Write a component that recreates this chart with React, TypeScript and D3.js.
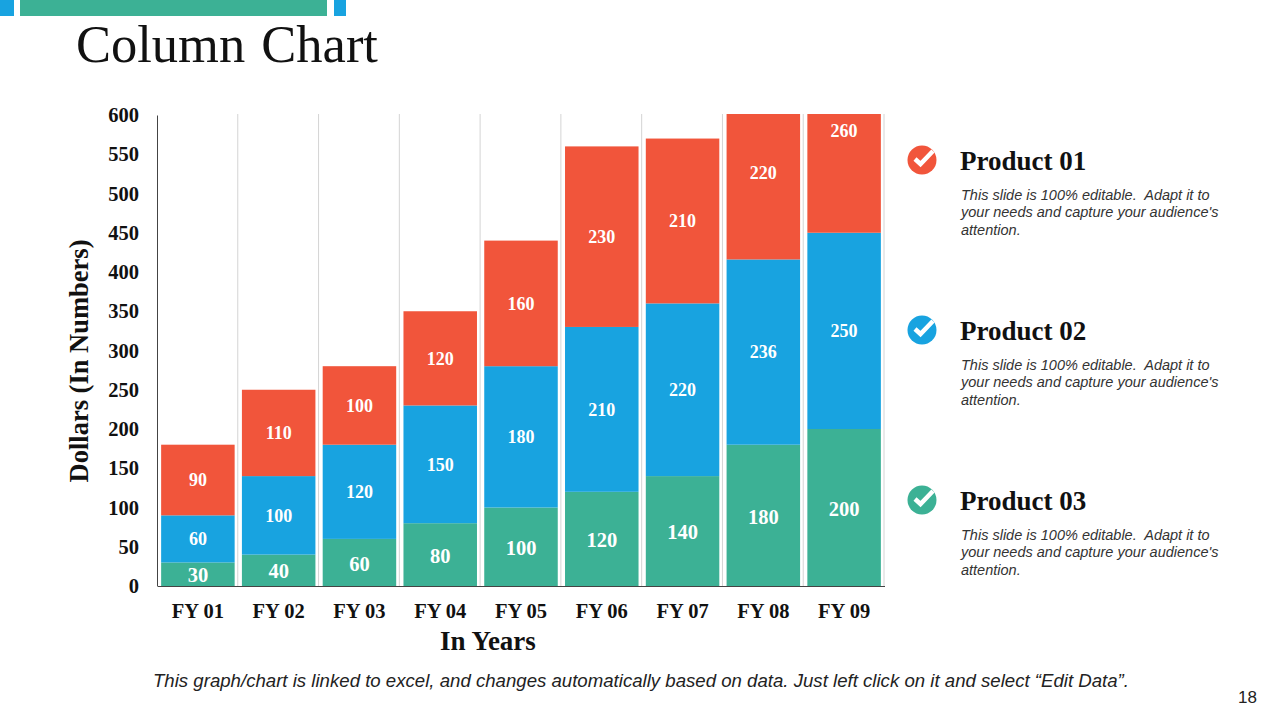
import * as d3 from "d3";
import { useEffect, useRef } from "react";

const years = ["FY 01", "FY 02", "FY 03", "FY 04", "FY 05", "FY 06", "FY 07", "FY 08", "FY 09"];
const product03 = [30, 40, 60, 80, 100, 120, 140, 180, 200];
const product02 = [60, 100, 120, 150, 180, 210, 220, 236, 250];
const product01 = [90, 110, 100, 120, 160, 230, 210, 220, 260];
const yTicks = [0, 50, 100, 150, 200, 250, 300, 350, 400, 450, 500, 550, 600];
const products = ["Product 01", "Product 02", "Product 03"];
const blurb = [
	"This slide is 100% editable.  Adapt it to",
	"your needs and capture your audience's",
	"attention.",
];

const GREEN = "#3CB195";
const BLUE = "#18A3E0";
const RED = "#F1553B";
const SERIF = "'Liberation Serif', serif";
const SANS = "'Liberation Sans', sans-serif";

const App = () => {
	const svgRef = useRef<SVGSVGElement>(null);

	useEffect(() => {
		if (!svgRef.current) return;

		const svg = d3.select(svgRef.current);
		svg.selectAll("*").remove();

		// header strips
		[
			[0, 14, BLUE],
			[20, 307, GREEN],
			[334, 12, BLUE],
		].forEach(([x, w, c]) => {
			svg.append("rect").attr("x", x).attr("y", 0).attr("width", w).attr("height", 16).attr("fill", c as string);
		});

		svg
			.append("text")
			.attr("x", 76)
			.attr("y", 62)
			.attr("font-family", SERIF)
			.attr("font-size", 52.5)
			.attr("fill", "#111")
			.attr("word-spacing", 3)
			.text("Column Chart");

		const left = 157;
		const right = 884;
		const top = 115;
		const bottom = 586;

		const x = d3.scaleBand<string>().domain(years).range([left + 0.5, right + 0.5]).paddingInner(0.09).paddingOuter(0.045);
		const y = d3.scaleLinear().domain([0, 600]).range([bottom, top]);
		const step = (right - left) / years.length;

		// vertical separators between the categories
		const g = svg.append("g");
		d3.range(1, years.length + 1).forEach((i) => {
			g.append("line")
				.attr("x1", left + i * step)
				.attr("x2", left + i * step)
				.attr("y1", top - 1)
				.attr("y2", bottom)
				.attr("stroke", "#D4D4D4")
				.attr("stroke-width", 1);
		});

		// bars are clipped at the top of the axis, FY 08 and FY 09 go over 600
		svg
			.append("clipPath")
			.attr("id", "plot")
			.append("rect")
			.attr("x", left)
			.attr("y", top - 1)
			.attr("width", right - left + 1)
			.attr("height", bottom - top + 1);

		const rows = years.map((year, i) => ({
			year,
			green: product03[i],
			blue: product02[i],
			red: product01[i],
		}));
		const keys = ["green", "blue", "red"] as const;
		const colors = { green: GREEN, blue: BLUE, red: RED };
		const stacked = d3.stack<(typeof rows)[number]>().keys(keys)(rows);

		const bars = svg.append("g").attr("clip-path", "url(#plot)");
		stacked.forEach((layer) => {
			bars
				.selectAll(`.bar-${layer.key}`)
				.data(layer)
				.enter()
				.append("rect")
				.attr("class", `bar-${layer.key}`)
				.attr("x", (d) => x(d.data.year) as number)
				.attr("y", (d) => y(d[1]))
				.attr("width", x.bandwidth())
				.attr("height", (d) => y(d[0]) - y(d[1]))
				.attr("fill", colors[layer.key as keyof typeof colors]);

			bars
				.selectAll(`.label-${layer.key}`)
				.data(layer)
				.enter()
				.append("text")
				.attr("class", `label-${layer.key}`)
				.attr("x", (d) => (x(d.data.year) as number) + x.bandwidth() / 2)
				.attr("y", (d) => y((d[0] + d[1]) / 2) + (layer.key === "green" ? 1 : 0))
				.attr("dy", "0.35em")
				.attr("text-anchor", "middle")
				.attr("font-family", SERIF)
				.attr("font-weight", "bold")
				.attr("font-size", layer.key === "green" ? 20.5 : 18)
				.attr("fill", "#fff")
				.text((d) => d[1] - d[0]);
		});

		// axes
		const yAxis = svg
			.append("g")
			.attr("transform", `translate(${left}, 0)`)
			.call(d3.axisLeft(y).tickValues(yTicks).tickSize(0).tickPadding(18));
		yAxis.select(".domain").attr("stroke", "#444");
		yAxis
			.selectAll(".tick text")
			.attr("font-family", SERIF)
			.attr("font-weight", "bold")
			.attr("font-size", 20.5)
			.attr("fill", "#111");

		const xAxis = svg
			.append("g")
			.attr("transform", `translate(0, ${bottom})`)
			.call(d3.axisBottom(x).tickSize(0).tickPadding(17));
		xAxis.select(".domain").attr("stroke", "#444");
		xAxis
			.selectAll(".tick text")
			.attr("font-family", SERIF)
			.attr("font-weight", "bold")
			.attr("font-size", 20.5)
			.attr("fill", "#111");

		svg
			.append("text")
			.attr("x", 488)
			.attr("y", 650)
			.attr("text-anchor", "middle")
			.attr("font-family", SERIF)
			.attr("font-weight", "bold")
			.attr("font-size", 27)
			.attr("fill", "#111")
			.text("In Years");

		svg
			.append("text")
			.attr("transform", "translate(88, 361) rotate(-90)")
			.attr("text-anchor", "middle")
			.attr("font-family", SERIF)
			.attr("font-weight", "bold")
			.attr("font-size", 26.5)
			.attr("fill", "#111")
			.text("Dollars (In Numbers)");

		// legend blocks on the right
		const legendColors = [RED, BLUE, GREEN];
		const legendY = d3.scalePoint<string>().domain(products).range([160, 500]);
		products.forEach((name, i) => {
			const cy = legendY(name) as number;
			const item = svg.append("g").attr("transform", `translate(922, ${cy})`);
			item.append("circle").attr("r", 14.5).attr("fill", legendColors[i]);
			item
				.append("path")
				.attr("d", "M-7,-1 L-1.5,4 L11,-9")
				.attr("fill", "none")
				.attr("stroke", "#fff")
				.attr("stroke-width", 4.5);

			svg
				.append("text")
				.attr("x", 960)
				.attr("y", cy + 10)
				.attr("font-family", SERIF)
				.attr("font-weight", "bold")
				.attr("font-size", 27)
				.attr("fill", "#111")
				.text(name);

			blurb.forEach((line, j) => {
				svg
					.append("text")
					.attr("x", 961)
					.attr("y", cy + 40 + j * 17.3)
					.attr("font-family", SANS)
					.attr("font-style", "italic")
					.attr("font-size", 14.5)
					.attr("fill", "#333")
					.style("white-space", "pre")
					.text(line);
			});
		});

		svg
			.append("text")
			.attr("x", 153)
			.attr("y", 687)
			.attr("font-family", SANS)
			.attr("font-style", "italic")
			.attr("font-size", 18)
			.attr("fill", "#222")
			.attr("textLength", 976)
			.attr("lengthAdjust", "spacingAndGlyphs")
			.text("This graph/chart is linked to excel, and changes automatically based on data. Just left click on it and select “Edit Data”.");

		svg
			.append("text")
			.attr("x", 1238)
			.attr("y", 703)
			.attr("font-family", SANS)
			.attr("font-size", 17)
			.attr("fill", "#222")
			.text("18");
	}, []);

	return (
		<svg
			ref={svgRef}
			width={1280}
			height={720}
			style={{ position: "absolute", left: 0, top: 0, background: "#fff" }}
		></svg>
	);
};

export default App;
